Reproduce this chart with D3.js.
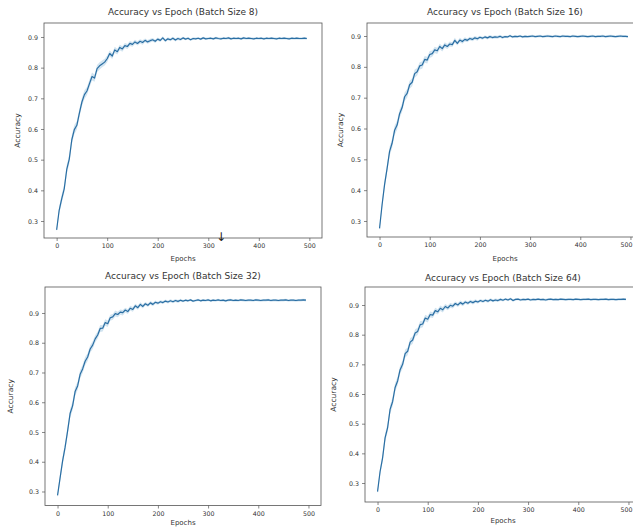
<!DOCTYPE html>
<html>
<head>
<meta charset="utf-8">
<script src="https://cdn.jsdelivr.net/npm/d3@7/dist/d3.min.js"></script>
<style>
  html, body { margin: 0; padding: 0; background: #fff; }
  svg { display: block; }
  text { font-family: "DejaVu Sans", sans-serif; fill: #333; }
</style>
</head>
<body>
<svg id="chart" width="633" height="527"></svg>
<script>
// ---------------- DATA ----------------
const epochs = d3.range(0, 500, 5);
const xTicks = [0, 100, 200, 300, 400, 500];
const yTicks = [0.3, 0.4, 0.5, 0.6, 0.7, 0.8, 0.9];
const titles = [
  "Accuracy vs Epoch (Batch Size 8)",
  "Accuracy vs Epoch (Batch Size 16)",
  "Accuracy vs Epoch (Batch Size 32)",
  "Accuracy vs Epoch (Batch Size 64)"
];

const acc8 = [
  0.271, 0.335, 0.372, 0.405, 0.468, 0.502, 0.565, 0.598, 0.612, 0.652,
  0.688, 0.712, 0.724, 0.748, 0.771, 0.766, 0.797, 0.806, 0.812, 0.818,
  0.829, 0.846, 0.838, 0.858, 0.852, 0.866, 0.861, 0.872, 0.869, 0.879,
  0.876, 0.884, 0.879, 0.886, 0.882, 0.889, 0.884, 0.888, 0.891, 0.886,
  0.893, 0.889, 0.897, 0.888, 0.894, 0.891, 0.896, 0.890, 0.895, 0.892,
  0.897, 0.893, 0.896, 0.891, 0.895, 0.894, 0.896, 0.893, 0.897, 0.894,
  0.895, 0.896, 0.894, 0.897, 0.895, 0.894, 0.896, 0.895, 0.897, 0.894,
  0.896, 0.895, 0.896, 0.894, 0.897, 0.895, 0.896, 0.895, 0.894, 0.896,
  0.895, 0.896, 0.894, 0.896, 0.895, 0.896, 0.895, 0.894, 0.896, 0.895,
  0.896, 0.895, 0.894, 0.896, 0.895, 0.896, 0.895, 0.895, 0.896, 0.895
];
const acc16 = [
  0.276, 0.352, 0.418, 0.470, 0.526, 0.552, 0.594, 0.611, 0.648, 0.668,
  0.703, 0.714, 0.742, 0.750, 0.778, 0.784, 0.803, 0.806, 0.824, 0.822,
  0.840, 0.843, 0.855, 0.852, 0.866, 0.859, 0.871, 0.866, 0.874, 0.872,
  0.886, 0.876, 0.887, 0.882, 0.889, 0.886, 0.892, 0.889, 0.894, 0.891,
  0.896, 0.893, 0.897, 0.894, 0.898, 0.895, 0.897, 0.896, 0.899, 0.895,
  0.898, 0.897, 0.901, 0.897, 0.899, 0.898, 0.900, 0.897, 0.899, 0.898,
  0.899, 0.900, 0.898, 0.899, 0.900, 0.898, 0.899, 0.900, 0.899, 0.898,
  0.900, 0.899, 0.898, 0.900, 0.899, 0.899, 0.898, 0.900, 0.899, 0.898,
  0.899, 0.900, 0.899, 0.898, 0.899, 0.900, 0.898, 0.899, 0.899, 0.900,
  0.898, 0.899, 0.900, 0.899, 0.898, 0.899, 0.900, 0.899, 0.899, 0.898
];
const acc32 = [
  0.287, 0.345, 0.402, 0.448, 0.503, 0.562, 0.588, 0.636, 0.655, 0.694,
  0.712, 0.738, 0.752, 0.779, 0.792, 0.813, 0.826, 0.848, 0.849, 0.868,
  0.864, 0.884, 0.887, 0.898, 0.895, 0.903, 0.901, 0.910, 0.905, 0.916,
  0.912, 0.924, 0.918, 0.929, 0.922, 0.931, 0.926, 0.934, 0.929, 0.936,
  0.933, 0.938, 0.935, 0.940, 0.937, 0.941, 0.938, 0.942, 0.939, 0.943,
  0.940, 0.943, 0.941, 0.944, 0.940, 0.942, 0.944, 0.941, 0.943, 0.942,
  0.944, 0.941, 0.943, 0.942, 0.944, 0.942, 0.943, 0.941, 0.943, 0.944,
  0.942, 0.943, 0.942, 0.944, 0.943, 0.942, 0.943, 0.943, 0.942, 0.944,
  0.943, 0.942, 0.943, 0.943, 0.944, 0.942, 0.943, 0.943, 0.942, 0.943,
  0.943, 0.944, 0.942, 0.943, 0.943, 0.942, 0.943, 0.943, 0.944, 0.943
];
const acc64 = [
  0.271, 0.338, 0.384, 0.452, 0.486, 0.548, 0.574, 0.622, 0.644, 0.682,
  0.700, 0.736, 0.744, 0.775, 0.782, 0.806, 0.811, 0.834, 0.836, 0.856,
  0.852, 0.868, 0.866, 0.881, 0.877, 0.889, 0.884, 0.895, 0.890, 0.899,
  0.896, 0.905, 0.900, 0.908, 0.903, 0.910, 0.906, 0.912, 0.908, 0.913,
  0.910, 0.915, 0.912, 0.916, 0.913, 0.918, 0.914, 0.917, 0.915, 0.919,
  0.916, 0.920, 0.917, 0.921, 0.915, 0.919, 0.920, 0.917, 0.919, 0.918,
  0.920, 0.917, 0.919, 0.918, 0.920, 0.918, 0.919, 0.917, 0.919, 0.920,
  0.918, 0.919, 0.918, 0.920, 0.919, 0.918, 0.919, 0.919, 0.918, 0.920,
  0.919, 0.918, 0.919, 0.919, 0.920, 0.918, 0.919, 0.919, 0.918, 0.919,
  0.919, 0.920, 0.918, 0.919, 0.919, 0.918, 0.919, 0.919, 0.920, 0.919
];
// spread of the shaded band around each curve
const bandStd = [
  0.006, 0.012, 0.014, 0.014, 0.015, 0.015, 0.015, 0.015, 0.014, 0.014,
  0.014, 0.014, 0.013, 0.013, 0.013, 0.012, 0.012, 0.012, 0.011, 0.011,
  0.011, 0.010, 0.010, 0.010, 0.009, 0.009, 0.009, 0.008, 0.008, 0.008,
  0.008, 0.007, 0.007, 0.007, 0.007, 0.006, 0.006, 0.006, 0.006, 0.006,
  0.005, 0.005, 0.005, 0.005, 0.005, 0.005, 0.005, 0.005, 0.005, 0.005,
  0.004, 0.004, 0.004, 0.004, 0.004, 0.004, 0.004, 0.004, 0.004, 0.004,
  0.004, 0.004, 0.004, 0.004, 0.004, 0.004, 0.004, 0.004, 0.004, 0.004,
  0.004, 0.004, 0.004, 0.004, 0.004, 0.004, 0.004, 0.004, 0.004, 0.004,
  0.004, 0.004, 0.004, 0.004, 0.004, 0.004, 0.004, 0.004, 0.004, 0.004,
  0.004, 0.004, 0.004, 0.004, 0.004, 0.004, 0.004, 0.004, 0.004, 0.004
];
const series = [acc8, acc16, acc32, acc64];

// ---------------- LAYOUT ----------------
const W = 633;
const layout = [
  { x0: 44,  x1: 322, y0: 23,  y1: 238,   yd: [0.2446, 0.9456], titleY: 15,  xlabY: 261, ylabX: 20 },
  { x0: 367, x1: 643, y0: 23,  y1: 237,   yd: [0.2481, 0.9422], titleY: 15,  xlabY: 261, ylabX: 343 },
  { x0: 45,  x1: 321, y0: 287, y1: 505.5, yd: [0.2529, 0.9874], titleY: 279, xlabY: 525, ylabX: 13 },
  { x0: 365, x1: 641, y0: 287, y1: 502,   yd: [0.2360, 0.9607], titleY: 281, xlabY: 523, ylabX: 336 }
];

const svg = d3.select("#chart");
svg.append("rect").attr("width", W).attr("height", 527).attr("fill", "#fff");

layout.forEach((L, i) => {
  const vals = series[i];
  const x = d3.scaleLinear().domain([-25, 525]).range([L.x0, L.x1]);
  const y = d3.scaleLinear().domain(L.yd).range([L.y1, L.y0]);
  const g = svg.append("g");

  // band
  const area = d3.area()
    .x((d, k) => x(epochs[k]))
    .y0((d, k) => y(d - bandStd[k]))
    .y1((d, k) => y(d + bandStd[k]));
  g.append("path").datum(vals).attr("d", area)
    .attr("fill", "#1f77b4").attr("fill-opacity", 0.2);

  // line
  const line = d3.line().x((d, k) => x(epochs[k])).y(d => y(d));
  g.append("path").datum(vals).attr("d", line)
    .attr("fill", "none").attr("stroke", "#2a6ea3").attr("stroke-width", 1.2)
    .attr("stroke-linejoin", "round");

  // axes
  const xa = g.append("g").attr("transform", `translate(0,${L.y1})`)
    .call(d3.axisBottom(x).tickValues(xTicks).tickFormat(d3.format("d")).tickSize(3).tickPadding(3));
  const ya = g.append("g").attr("transform", `translate(${L.x0},0)`)
    .call(d3.axisLeft(y).tickValues(yTicks).tickFormat(d3.format(".1f")).tickSize(3).tickPadding(3));
  [xa, ya].forEach(a => {
    a.select(".domain").remove();
    a.selectAll("line").attr("stroke", "#555").attr("stroke-width", 0.7);
    a.selectAll("text").attr("font-size", 6.3).attr("fill", "#444")
      .attr("font-family", "DejaVu Sans, sans-serif");
  });
  // keep a tick label that would run past the right edge inside the page
  xa.selectAll(".tick").each(function (d) {
    const px = x(d);
    if (px + 10 > W) {
      d3.select(this).select("text").attr("text-anchor", "end").attr("x", W - 1 - px);
    }
  });

  // frame
  g.append("rect").attr("x", L.x0).attr("y", L.y0)
    .attr("width", L.x1 - L.x0).attr("height", L.y1 - L.y0)
    .attr("fill", "none").attr("stroke", "#555").attr("stroke-width", 0.8);

  // title & labels
  g.append("text").attr("x", (L.x0 + L.x1) / 2).attr("y", L.titleY)
    .attr("text-anchor", "middle").attr("font-size", 9).attr("fill", "#333")
    .text(titles[i]);
  g.append("text").attr("x", (L.x0 + L.x1) / 2).attr("y", L.xlabY)
    .attr("text-anchor", "middle").attr("font-size", 7).attr("fill", "#444")
    .text("Epochs");
  g.append("text")
    .attr("transform", `translate(${L.ylabX},${(L.y0 + L.y1) / 2}) rotate(-90)`)
    .attr("text-anchor", "middle").attr("font-size", 7.5).attr("fill", "#444")
    .text("Accuracy");
});

// cursor mark visible in the original screenshot
svg.append("text").attr("x", 221).attr("y", 241).attr("text-anchor", "middle")
  .attr("font-family", "DejaVu Sans").attr("font-size", 12).attr("fill", "#222")
  .style("fill", "#222").text("\u2193\uFE0E");
</script>
</body>
</html>
